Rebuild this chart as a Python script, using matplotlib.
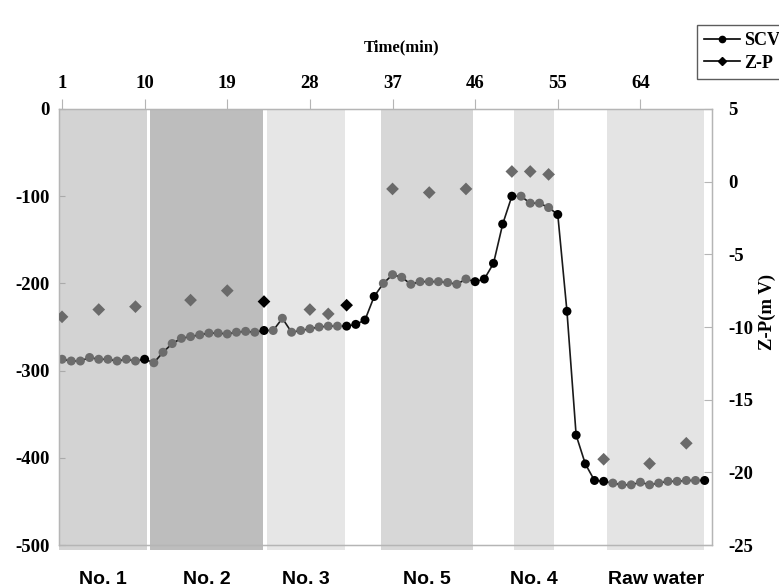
import matplotlib
matplotlib.use("Agg")
import matplotlib.pyplot as plt
from matplotlib.lines import Line2D
from matplotlib.transforms import blended_transform_factory

# ---------------- data ----------------
time_idx = list(range(1, 72))
scv = [-287, -289, -289, -285, -287, -287, -289, -287, -289, -287,
       -291, -279, -269, -263, -261, -259, -257, -257, -258, -256,
       -255, -256, -254, -254, -240, -256, -254, -252, -250, -249,
       -249, -249, -247, -242, -215, -200, -190, -193, -201, -198,
       -198, -198, -199, -201, -195, -198, -195, -177, -132, -100,
       -100, -108, -108, -113, -121, -232, -374, -407, -426, -427,
       -429, -431, -431, -428, -431, -429, -427, -427, -426, -426,
       -426]
scv_black = [10, 23, 32, 33, 34, 35, 46, 47, 48, 49, 50, 55, 56, 57, 58, 59, 60, 71]

zp_time = [1, 5, 9, 15, 19, 23, 28, 30, 32, 37, 41, 45, 50, 52, 54, 60, 65, 69]
zp = [-9.3, -8.8, -8.6, -8.15, -7.5, -8.25, -8.8, -9.1, -8.5,
      -0.5, -0.75, -0.5, 0.7, 0.7, 0.5, -19.1, -19.4, -18.0]
zp_black = [23, 32]

band_names = ["No. 1", "No. 2", "No. 3", "No. 5", "No. 4", "Raw water"]
band_start = [0.67, 10.6, 23.35, 35.75, 50.25, 60.4]
band_end = [10.25, 22.9, 31.8, 45.75, 54.6, 70.95]
band_colors = ["#d3d3d3", "#bdbdbd", "#e6e6e6", "#d7d7d7", "#e2e2e2", "#e4e4e4"]

top_ticks = [1, 10, 19, 28, 37, 46, 55, 64]
left_ticks = [0, -100, -200, -300, -400, -500]
right_ticks = [5, 0, -5, -10, -15, -20, -25]

# ---------------- figure ----------------
W, H = 779, 588
fig = plt.figure(figsize=(W / 100, H / 100), dpi=100)
ax = fig.add_axes([59 / W, 1 - 545 / H, (712 - 59) / W, (545 - 109) / H])

serif = "Liberation Serif"
sans = "Liberation Sans"

for s, e, c in zip(band_start, band_end, band_colors):
    ax.axvspan(s, e, ymin=-0.012, ymax=1, color=c, lw=0, zorder=0, clip_on=False)

ax.plot(time_idx, scv, color="#1a1a1a", lw=1.2, zorder=2)
cols = ["#000000" if t in scv_black else "#6c6c6c" for t in time_idx]
ax.scatter(time_idx, scv, s=42, c=cols, zorder=3, edgecolors="none")

ax.set_xlim(0.67, 71.8)
ax.set_ylim(-500, 0)
ax.set_yticks(left_ticks)
ax.set_yticklabels([str(v) for v in left_ticks], fontfamily=serif,
                   fontweight="bold", fontsize=13.5)
ax.tick_params(axis="y", direction="in", length=4, color="#aaaaaa", pad=7)

ax.xaxis.tick_top()
ax.set_xticks(top_ticks)
ax.set_xticklabels([str(v) for v in top_ticks], fontfamily=serif,
                   fontweight="bold", fontsize=13.5)
ax.tick_params(axis="x", direction="out", length=7, color="#b5b5b5", pad=5)

for sp in ax.spines.values():
    sp.set_color("#b5b5b5")
    sp.set_linewidth(0.9)

ax2 = ax.twinx()
ax2.set_ylim(-25, 5)
ax2.set_yticks(right_ticks)
ax2.set_yticklabels([str(v) for v in right_ticks], fontfamily=serif,
                    fontweight="bold", fontsize=13.5)
ax2.tick_params(axis="y", direction="in", length=6, color="#b5b5b5", pad=12)
for sp in ax2.spines.values():
    sp.set_color("#b5b5b5")
    sp.set_linewidth(0.9)
zcols = ["#000000" if t in zp_black else "#6a6a6a" for t in zp_time]
ax2.scatter(zp_time, zp, marker="D", s=42, c=zcols, zorder=4, edgecolors="none")

# band labels below
tr = blended_transform_factory(ax.transData, ax.transAxes)
for s, e, name in zip(band_start, band_end, band_names):
    ax.text((s + e) / 2, -0.08, name, transform=tr, ha="center", va="center",
            fontfamily=sans, fontweight="bold", fontsize=14)

# titles
fig.text(402 / W, 1 - 47 / H, "Time(min)", ha="center", va="center",
         fontfamily=serif, fontweight="bold", fontsize=12)
fig.text(767 / W, 1 - 312 / H, "Z-P(m V)", ha="center", va="center",
         rotation=90, fontfamily=serif, fontweight="bold", fontsize=13.5)

# legend
handles = [Line2D([], [], color="black", lw=1.2, marker="o", ms=4.5),
           Line2D([], [], color="black", lw=1.2, marker="D", ms=4)]
leg = fig.legend(handles, ["SCV", "Z-P"], loc="upper left",
                 bbox_to_anchor=(697 / W, 1 - 25 / H), borderaxespad=0,
                 frameon=True, fancybox=False, edgecolor="#333333",
                 handlelength=2.0, handletextpad=0.2, borderpad=0.4,
                 labelspacing=0.3,
                 prop={"family": serif, "weight": "bold", "size": 13})
leg.get_frame().set_linewidth(1.0)

fig.savefig("out.png", dpi=100)
